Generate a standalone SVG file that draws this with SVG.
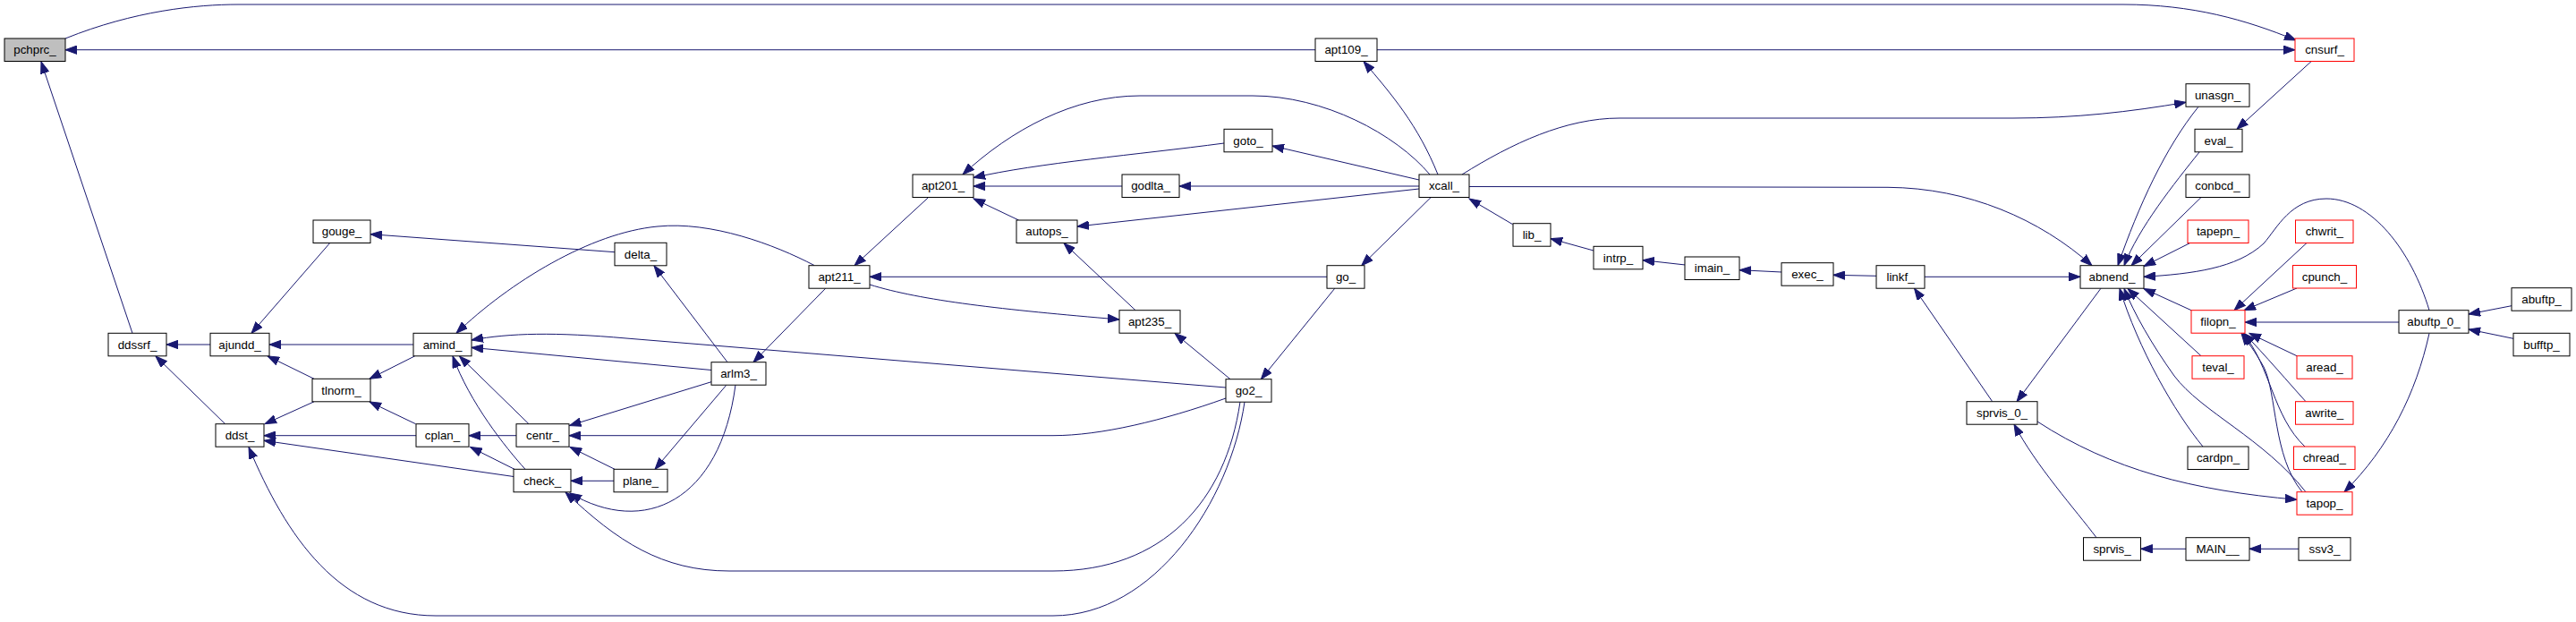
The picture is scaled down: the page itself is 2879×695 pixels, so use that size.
<svg xmlns="http://www.w3.org/2000/svg" width="2879" height="695" viewBox="0 0 2879 695">
<style>
.node rect{fill:#ffffff;stroke:#000000;stroke-width:1}
.node.root rect{fill:#bfbfbf}
.node.red rect{stroke:#ff0000}
.node text{font-family:"Liberation Sans",Arial,Helvetica,sans-serif;font-size:13.33px;text-anchor:middle;fill:#000000}
.edges path{fill:none;stroke:#191970;stroke-width:1;marker-end:url(#ah)}
</style>
<defs>
<marker id="ah" markerUnits="userSpaceOnUse" viewBox="0 0 14 10" markerWidth="14" markerHeight="10" refX="13" refY="5" orient="auto">
<path d="M0,0.3 L13,5 L0,9.7 z" fill="#191970" stroke="#191970" stroke-width="1"/>
</marker>
</defs>
<rect x="0" y="0" width="2879" height="695" fill="#ffffff"/>
<g id="connectors" class="edges">
<path d="M73,43 C150,12 220,5 266,5 L2373,5 C2450,5 2510,22 2566,45"/>
<path d="M1470,55.7 L73,55.7"/>
<path d="M1539,55.7 L2565,55.7"/>
<path d="M148,372.3 L46,69"/>
<path d="M235,385 L186,385"/>
<path d="M251.6,473.7 L174,398"/>
<path d="M462,385 L301,385"/>
<path d="M351,423.3 L299,397.8"/>
<path d="M368.7,271.5 L281,372.3"/>
<path d="M687,281.7 L414,261.7"/>
<path d="M463.7,397.8 L413,423.3"/>
<path d="M351,448.8 L296,473.7"/>
<path d="M464.6,473.7 L413,449"/>
<path d="M465,486.7 L295,486.7"/>
<path d="M574,532.5 L295,492.3"/>
<path d="M1391,449 C1375,560 1290,688 1177,688 L487,688 C380,688 320,600 278,499.5"/>
<path d="M577,486.7 L524,486.7"/>
<path d="M575,524.3 L525.5,499.5"/>
<path d="M587,524.3 C565,500 525,450 506,398"/>
<path d="M591,473.7 L513.5,398"/>
<path d="M795,413.5 L527,388.3"/>
<path d="M1370,433 L700,378 C620,371 570,372 527,380"/>
<path d="M910,296.5 C865,273 795,247 735,253 C660,260 570,315 510,372.3"/>
<path d="M1037.5,220.7 L955,296.7"/>
<path d="M922.7,322.2 L842,404.7"/>
<path d="M813,404.7 L731,297"/>
<path d="M972,318 C1030,336 1120,346 1251,357"/>
<path d="M1483,309.3 L972,309.3"/>
<path d="M1375,423.7 L1313,372.5"/>
<path d="M1269,346.7 L1189,271.7"/>
<path d="M1138.5,246 L1088,222"/>
<path d="M1586,211 L1204,253"/>
<path d="M1254,208 L1088,208"/>
<path d="M1586,208 L1318,208"/>
<path d="M1368,160 C1270,173 1160,182 1088,198.5"/>
<path d="M1586,201 L1422,163"/>
<path d="M1598,195 C1560,150 1480,107 1400,107 L1274,107 C1200,107 1130,145 1076,195"/>
<path d="M1607,195 C1585,140 1555,105 1524,68.7"/>
<path d="M1599,220.7 L1521.7,296.7"/>
<path d="M1690.6,250.7 L1642,222"/>
<path d="M1781,280 L1733,266.7"/>
<path d="M1883.5,296 L1836,290.7"/>
<path d="M1991,304 L1944,301.7"/>
<path d="M2097,308.3 L2049,307.3"/>
<path d="M1634,195 C1690,160 1750,132 1810,132 L2250,132 C2320,132 2380,125 2443,114.3"/>
<path d="M1642,208.5 L2110,209.3 C2200,210 2280,245 2338,296.7"/>
<path d="M1491.8,322.2 L1409.4,423.7"/>
<path d="M1386,449 C1370,560 1300,638 1177,638 L815,638 C740,638 690,605 632,550"/>
<path d="M822,430 C805,560 720,600 637,551"/>
<path d="M811.6,430.5 L732,524.3"/>
<path d="M686,537.3 L638,537.3"/>
<path d="M687,524.3 L637,499.5"/>
<path d="M795,426.7 L636.5,475.5"/>
<path d="M1370,445 C1300,470 1230,486.7 1177,486.7 L636,486.7"/>
<path d="M2583,68.7 L2500,144.3"/>
<path d="M2458,170 C2430,205 2390,255 2374,296.7"/>
<path d="M2457,119.3 C2420,165 2390,230 2367,296.7"/>
<path d="M2460,220.5 L2382,296.7"/>
<path d="M2447.7,271.5 L2396,297.5"/>
<path d="M2715,346.7 C2695,280 2650,222 2600,222 C2560,222 2545,255 2530,272 C2500,300 2450,306 2396,309.3"/>
<path d="M2151,309.3 L2325,309.3"/>
<path d="M2226.7,448.7 L2139.5,322.2"/>
<path d="M2348,322.2 L2254,448.7"/>
<path d="M2277,471 C2360,525 2450,548 2567,558.3"/>
<path d="M2343,600.7 C2320,570 2275,520 2251,474"/>
<path d="M2443,613.3 L2392.6,613.3"/>
<path d="M2569,613.3 L2514,613.3"/>
<path d="M2449,346.7 L2396,322.5"/>
<path d="M2460,397.7 L2378,322.5"/>
<path d="M2462,499 C2430,460 2390,390 2369,322.5"/>
<path d="M2577,549.7 C2530,490 2460,460 2430,420 C2405,385 2385,350 2374,322.5"/>
<path d="M2578,271.5 L2497,346.7"/>
<path d="M2567,322 L2508,346.7"/>
<path d="M2681,360 L2509,360"/>
<path d="M2567,397.7 L2514,372.5"/>
<path d="M2577,448.7 C2560,430 2530,395 2508,372.5"/>
<path d="M2576,499 C2540,465 2538,410 2507,372.5"/>
<path d="M2573,549.7 C2540,510 2545,440 2530,410 C2520,392 2512,382 2505,372.5"/>
<path d="M2715,372.5 C2700,440 2670,500 2620,549.7"/>
<path d="M2807,341.7 L2759,351"/>
<path d="M2809,378.3 L2759,368"/>
</g>
<g id="pchprc_" class="node root"><rect x="5" y="43" width="68" height="25.5"/><text x="39" y="60.2">pchprc_</text></g>
<g id="ddssrf_" class="node"><rect x="121" y="372.3" width="65" height="25.5"/><text x="153.5" y="389.5">ddssrf_</text></g>
<g id="ajundd_" class="node"><rect x="235" y="372.3" width="66" height="25.5"/><text x="268" y="389.5">ajundd_</text></g>
<g id="gouge_" class="node"><rect x="350" y="246" width="64" height="25.5"/><text x="382" y="263.2">gouge_</text></g>
<g id="tlnorm_" class="node"><rect x="349" y="423.3" width="65" height="25.5"/><text x="381.5" y="440.5">tlnorm_</text></g>
<g id="ddst_" class="node"><rect x="241" y="473.7" width="54" height="25.5"/><text x="268" y="490.9">ddst_</text></g>
<g id="amind_" class="node"><rect x="462" y="372.3" width="65" height="25.5"/><text x="494.5" y="389.5">amind_</text></g>
<g id="cplan_" class="node"><rect x="465" y="473.7" width="59" height="25.5"/><text x="494.5" y="490.9">cplan_</text></g>
<g id="delta_" class="node"><rect x="687" y="271.3" width="58" height="25.5"/><text x="716" y="288.5">delta_</text></g>
<g id="centr_" class="node"><rect x="577" y="473.7" width="59" height="25.5"/><text x="606.5" y="490.9">centr_</text></g>
<g id="check_" class="node"><rect x="574" y="524.3" width="64" height="25.5"/><text x="606" y="541.5">check_</text></g>
<g id="plane_" class="node"><rect x="686" y="524.3" width="60" height="25.5"/><text x="716" y="541.5">plane_</text></g>
<g id="arlm3_" class="node"><rect x="795" y="404.7" width="61" height="25.5"/><text x="825.5" y="421.9">arlm3_</text></g>
<g id="apt211_" class="node"><rect x="904" y="296.7" width="68" height="25.5"/><text x="938" y="313.9">apt211_</text></g>
<g id="apt201_" class="node"><rect x="1020" y="195" width="68" height="25.5"/><text x="1054" y="212.2">apt201_</text></g>
<g id="autops_" class="node"><rect x="1136" y="246" width="68" height="25.5"/><text x="1170" y="263.2">autops_</text></g>
<g id="apt235_" class="node"><rect x="1251" y="346.7" width="68" height="25.5"/><text x="1285" y="363.9">apt235_</text></g>
<g id="godlta_" class="node"><rect x="1254" y="195" width="64" height="25.5"/><text x="1286" y="212.2">godlta_</text></g>
<g id="goto_" class="node"><rect x="1368" y="144.3" width="54" height="25.5"/><text x="1395" y="161.5">goto_</text></g>
<g id="go2_" class="node"><rect x="1370" y="423.7" width="51" height="25.5"/><text x="1395.5" y="440.9">go2_</text></g>
<g id="apt109_" class="node"><rect x="1470" y="43" width="69" height="25.5"/><text x="1504.5" y="60.2">apt109_</text></g>
<g id="go_" class="node"><rect x="1483" y="296.7" width="42" height="25.5"/><text x="1504" y="313.9">go_</text></g>
<g id="xcall_" class="node"><rect x="1586" y="195" width="56" height="25.5"/><text x="1614" y="212.2">xcall_</text></g>
<g id="lib_" class="node"><rect x="1691" y="249.7" width="42" height="25.5"/><text x="1712" y="266.9">lib_</text></g>
<g id="intrp_" class="node"><rect x="1781" y="275.3" width="55" height="25.5"/><text x="1808.5" y="292.5">intrp_</text></g>
<g id="imain_" class="node"><rect x="1883" y="287" width="61" height="25.5"/><text x="1913.5" y="304.2">imain_</text></g>
<g id="exec_" class="node"><rect x="1991" y="293.7" width="58" height="25.5"/><text x="2020" y="310.9">exec_</text></g>
<g id="linkf_" class="node"><rect x="2097" y="296.7" width="54" height="25.5"/><text x="2124" y="313.9">linkf_</text></g>
<g id="sprvis_0_" class="node"><rect x="2198" y="448.7" width="79" height="25.5"/><text x="2237.5" y="465.9">sprvis_0_</text></g>
<g id="abnend_" class="node"><rect x="2325" y="296.7" width="71" height="25.5"/><text x="2360.5" y="313.9">abnend_</text></g>
<g id="sprvis_" class="node"><rect x="2328.5" y="600.7" width="64" height="25.5"/><text x="2360.5" y="617.9">sprvis_</text></g>
<g id="unasgn_" class="node"><rect x="2443" y="93.7" width="71" height="25.5"/><text x="2478.5" y="110.9">unasgn_</text></g>
<g id="eval_" class="node"><rect x="2453" y="144.3" width="53" height="25.5"/><text x="2479.5" y="161.5">eval_</text></g>
<g id="conbcd_" class="node"><rect x="2443" y="195" width="71" height="25.5"/><text x="2478.5" y="212.2">conbcd_</text></g>
<g id="tapepn_" class="node red"><rect x="2445" y="246" width="68" height="25.5"/><text x="2479" y="263.2">tapepn_</text></g>
<g id="filopn_" class="node red"><rect x="2449" y="346.7" width="60" height="25.5"/><text x="2479" y="363.9">filopn_</text></g>
<g id="teval_" class="node red"><rect x="2450" y="397.7" width="58" height="25.5"/><text x="2479" y="414.9">teval_</text></g>
<g id="cardpn_" class="node"><rect x="2445" y="499" width="68" height="25.5"/><text x="2479" y="516.2">cardpn_</text></g>
<g id="MAIN__" class="node"><rect x="2443" y="600.7" width="71" height="25.5"/><text x="2478.5" y="617.9">MAIN__</text></g>
<g id="cnsurf_" class="node red"><rect x="2565" y="43" width="66" height="25.5"/><text x="2598" y="60.2">cnsurf_</text></g>
<g id="chwrit_" class="node red"><rect x="2565.5" y="246" width="64.5" height="25.5"/><text x="2597.8" y="263.2">chwrit_</text></g>
<g id="cpunch_" class="node red"><rect x="2562.5" y="296.5" width="71" height="25.5"/><text x="2598" y="313.7">cpunch_</text></g>
<g id="aread_" class="node red"><rect x="2567" y="397.7" width="62" height="25.5"/><text x="2598" y="414.9">aread_</text></g>
<g id="awrite_" class="node red"><rect x="2565.5" y="448.7" width="64.5" height="25.5"/><text x="2597.8" y="465.9">awrite_</text></g>
<g id="chread_" class="node red"><rect x="2563.5" y="499" width="68.5" height="25.5"/><text x="2597.8" y="516.2">chread_</text></g>
<g id="tapop_" class="node red"><rect x="2567" y="549.7" width="62" height="25.5"/><text x="2598" y="566.9">tapop_</text></g>
<g id="ssv3_" class="node"><rect x="2569" y="600.7" width="58" height="25.5"/><text x="2598" y="617.9">ssv3_</text></g>
<g id="abuftp_0_" class="node"><rect x="2681" y="346.7" width="78" height="25.5"/><text x="2720" y="363.9">abuftp_0_</text></g>
<g id="abuftp_" class="node"><rect x="2807" y="321.7" width="67" height="25.5"/><text x="2840.5" y="338.9">abuftp_</text></g>
<g id="bufftp_" class="node"><rect x="2809" y="372.3" width="63" height="25.5"/><text x="2840.5" y="389.5">bufftp_</text></g>
</svg>
